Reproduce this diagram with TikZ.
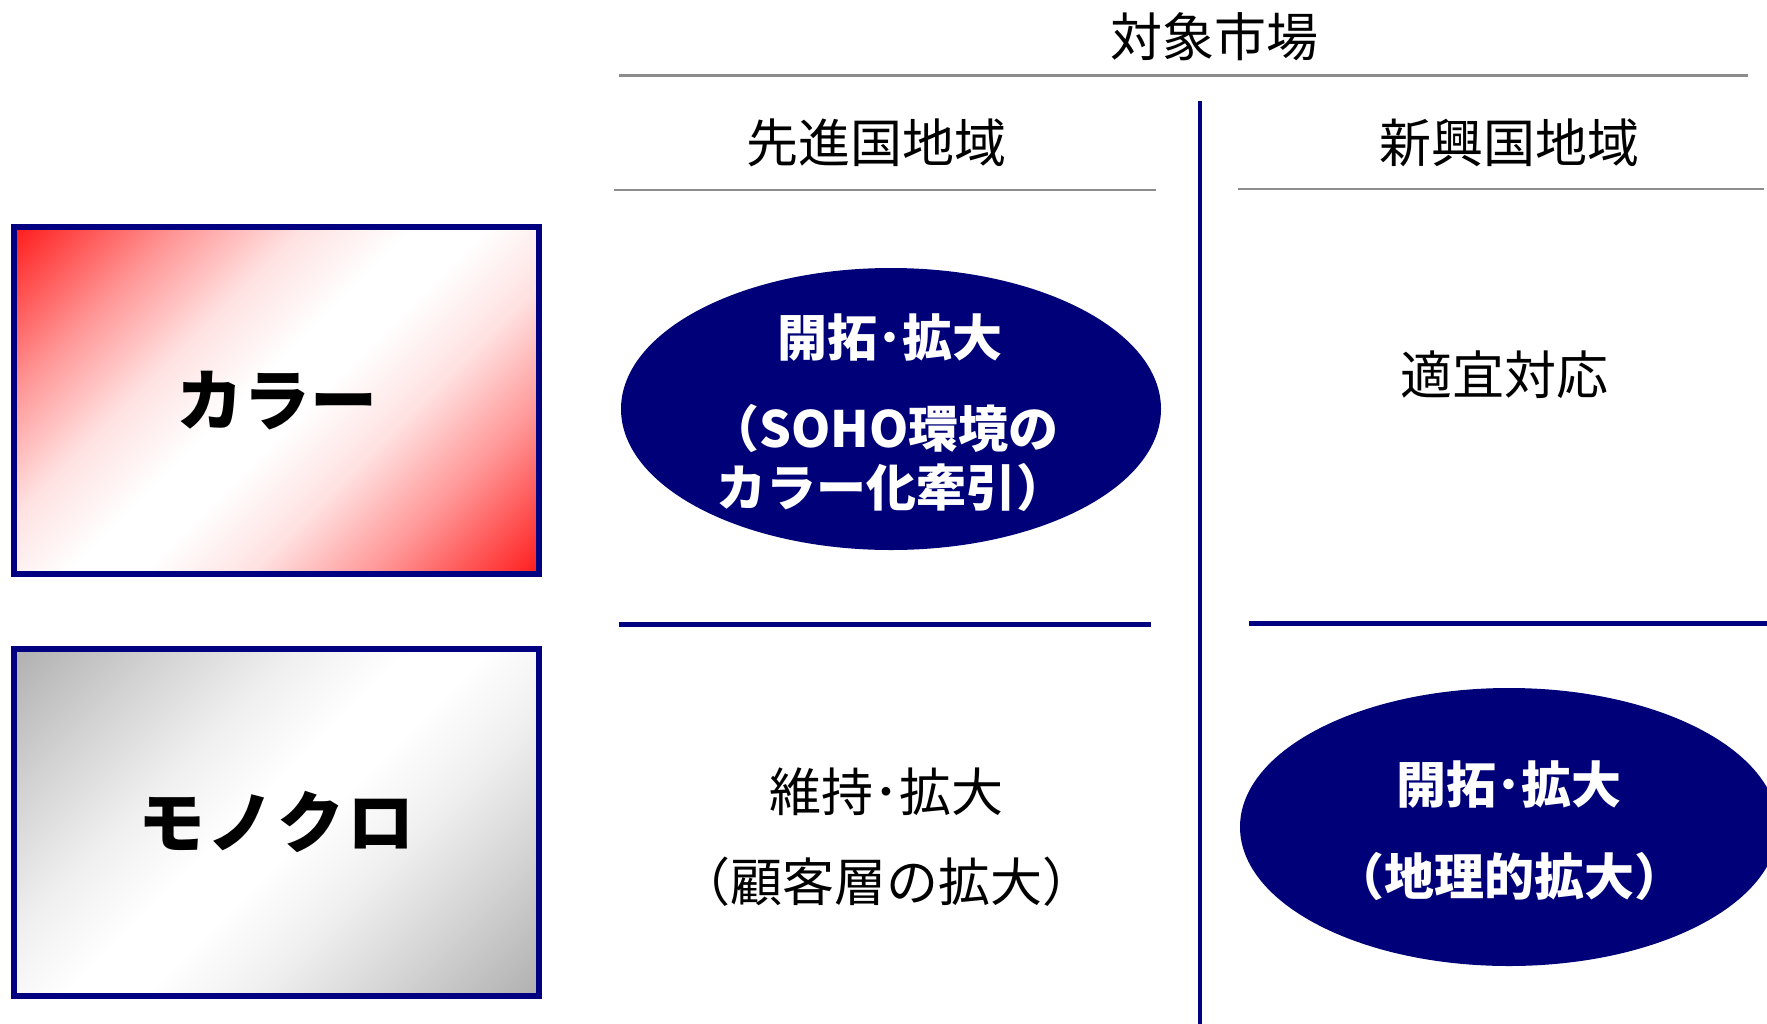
\documentclass[tikz,border=0pt]{standalone}
\usepackage{fontspec}
\setmainfont{Noto Sans CJK JP}
\usetikzlibrary{shapes.geometric}
\definecolor{navyc}{RGB}{0,0,128}
\definecolor{ellc}{RGB}{0,0,120}
\definecolor{redc}{RGB}{255,28,28}
\definecolor{redm}{RGB}{255,150,150}
\definecolor{redl}{RGB}{255,225,225}
\definecolor{grayc}{RGB}{176,176,176}
\definecolor{graym}{RGB}{214,214,214}
\definecolor{grayl}{RGB}{240,240,240}
\definecolor{rulegray}{RGB}{140,140,140}
\pgfdeclareverticalshading{redgrad}{100bp}{color(0bp)=(redc); color(14.6bp)=(redc); color(28bp)=(redm); color(38bp)=(redl); color(47bp)=(white); color(53bp)=(white); color(62bp)=(redl); color(72bp)=(redm); color(85.4bp)=(redc); color(100bp)=(redc)}
\pgfdeclareverticalshading{graygrad}{100bp}{color(0bp)=(grayc); color(14.6bp)=(grayc); color(28bp)=(graym); color(38bp)=(grayl); color(47bp)=(white); color(53bp)=(white); color(62bp)=(grayl); color(72bp)=(graym); color(85.4bp)=(grayc); color(100bp)=(grayc)}
\begin{document}
\begin{tikzpicture}[x=1pt,y=-1pt,
  every node/.style={inner sep=0pt, outer sep=0pt},
  lbl/.style={font=\fontsize{52}{60}\selectfont, text=black},
  elltxt/.style={font=\bfseries\fontsize{50}{60}\selectfont, text=white},
  boxlbl/.style={draw=navyc, line width=6pt, minimum width=525pt, minimum height=347pt, shade, shading angle=45, font=\bfseries\fontsize{67}{70}\selectfont, text=black},
  oval/.style={ellipse, fill=ellc, minimum width=540pt, minimum height=282pt},
  grayrule/.style={draw=rulegray, line width=2.5pt},
  navyrule/.style={draw=navyc, line width=5pt}]
\clip (0,0) rectangle (1767,1023);
\fill[white] (0,0) rectangle (1767,1023);
% row header boxes
\node[boxlbl, shading=redgrad] (color) at (276.5,400.5) {カラー};
\node[boxlbl, shading=graygrad] (mono) at (276.5,822) {モ\kern3ptノ\kern3ptク\kern3ptロ};
% header texts
\node[lbl] (market) at (1214,37) {対象市場};
\node[lbl] (adv) at (876,143) {先進国地域};
\node[lbl] (emg) at (1509,143) {新興国地域};
% rules
\coordinate (r1a) at (619,75.5); \coordinate (r1b) at (1748,75.5);
\coordinate (r2a) at (614,190); \coordinate (r2b) at (1156,190);
\coordinate (r3a) at (1238,189); \coordinate (r3b) at (1764,189);
\draw[grayrule] (r1a) -- (r1b);
\draw[grayrule] (r2a) -- (r2b);
\draw[grayrule] (r3a) -- (r3b);
\coordinate (v1) at (1200,101); \coordinate (v2) at (1200,1030);
\draw[navyrule, line width=4pt] (v1) -- (v2);
\coordinate (h1a) at (619,624); \coordinate (h1b) at (1151,624);
\coordinate (h2a) at (1249,623); \coordinate (h2b) at (1780,623);
\draw[navyrule] (h1a) -- (h1b);
\draw[navyrule] (h2a) -- (h2b);
% cells
\node[oval] (e1) at (891,409) {};
\node[elltxt] (e1a) at (890,338) {開拓･拡大};
\node[elltxt] (e1b) at (884,428) {（SOHO環境の};
\node[elltxt] (e1c) at (891,487) {カラー化牽引）};
\node[lbl] (c2) at (1504,375) {適宜対応};
\node[lbl] (m1a) at (886,792) {維持･拡大};
\node[lbl] (m1b) at (886,882) {（顧客層の拡大）};
\node[oval, minimum width=538pt, minimum height=278pt] (e2) at (1509,827) {};
\node[elltxt] (e2a) at (1509,785) {開拓･拡大};
\node[elltxt] (e2b) at (1509,876) {（地理的拡大）};
\end{tikzpicture}
\end{document}
